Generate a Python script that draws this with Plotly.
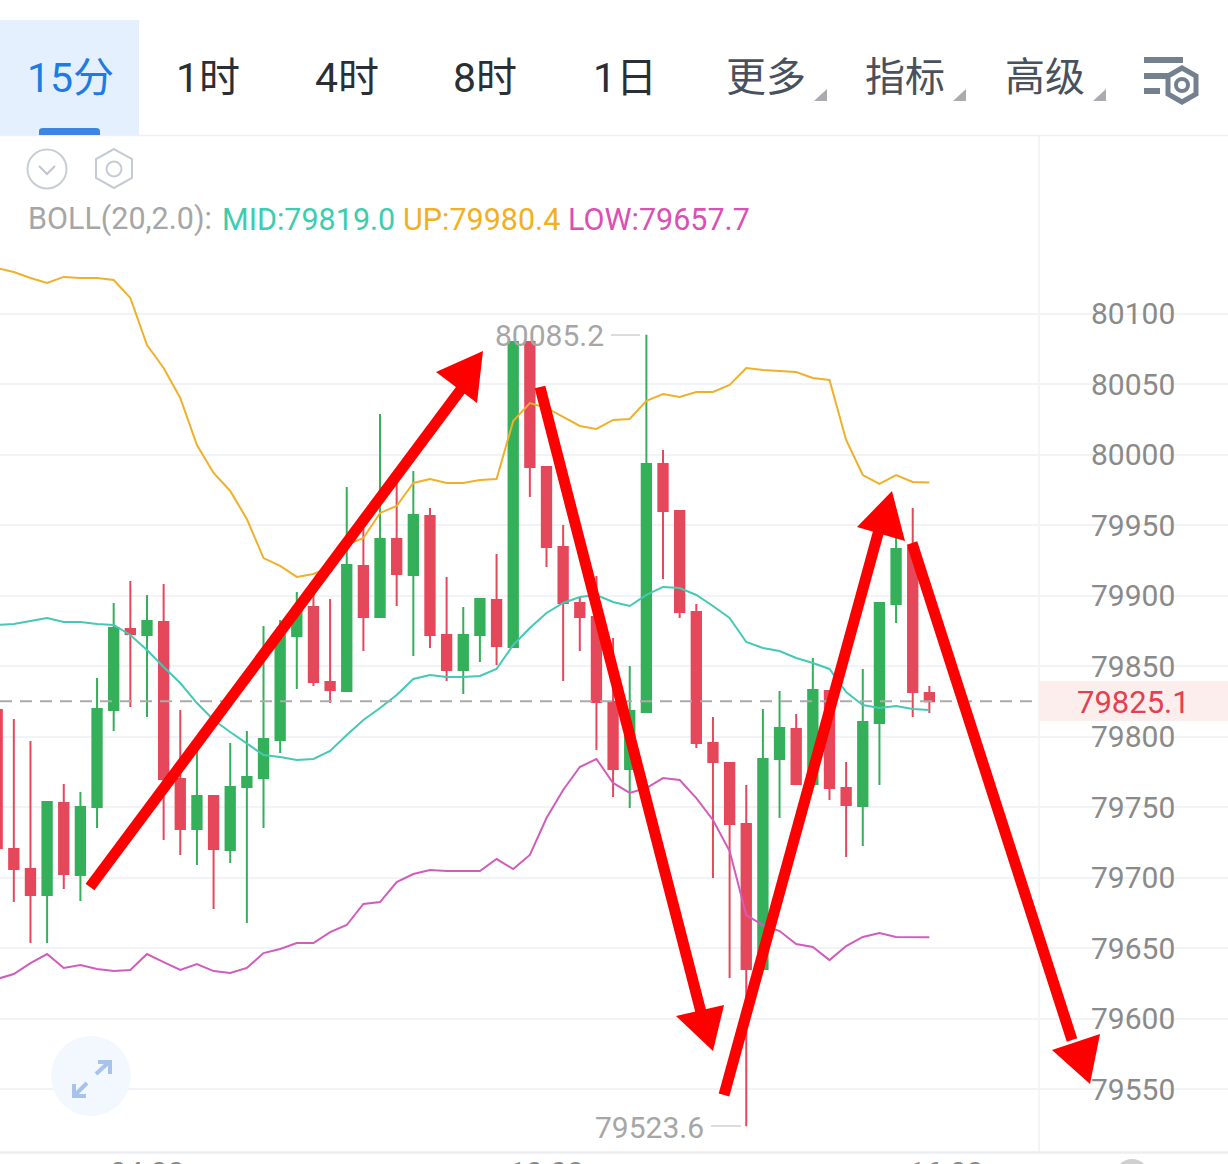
import plotly.graph_objects as go

W, H = 1228, 1164

opens = [79819.0,79720.3,79706.1,79687.7,79753.0,79701.9,79750.1,79819.0,79876.4,79872.2,
         79881.4,79770.0,79734.5,79757.9,79719.6,79764.3,79770.7,79797.7,79871.5,79892.1,
         79838.8,79832.5,79921.2,79885.0,79940.3,79914.8,79956.6,79872.2,79847.4,79872.2,
         79897.0,79863.7,80080.1,79991.4,79934.6,79894.9,79885.0,79824.6,79777.1,79817.5,
         79993.5,79960.2,79888.5,79795.5,79781.4,79738.1,79635.2,79784.2,79805.5,79766.5,
         79832.5,79763.6,79750.8,79809.7,79894.2,79933.9,79831.0]
highs = [79822.5,79812.6,79797.0,79753.7,79766.5,79760.8,79841.7,79894.9,79910.5,79900.6,
         79908.4,79819.0,79790.6,79757.9,79795.5,79804.1,79878.6,79882.8,79902.7,79905.5,
         79897.7,79977.2,79951.7,80029.0,79985.7,79988.6,79962.3,79913.4,79892.1,79897.7,
         79929.7,80080.1,80080.1,79991.4,79950.3,79899.2,79914.1,79870.1,79850.2,80085.2,
         80003.5,79960.2,79894.2,79814.0,79781.4,79765.7,79819.7,79832.5,79816.1,79855.9,
         79832.5,79782.1,79848.1,79894.9,79946.7,79962.3,79836.0]
lows = [79716.1,79682.7,79653.6,79653.6,79691.9,79683.4,79735.2,79804.1,79821.1,79814.0,
        79726.7,79716.1,79709.0,79677.7,79710.4,79667.8,79735.2,79788.5,79833.9,79836.0,
        79823.9,79832.5,79860.8,79885.0,79892.8,79857.3,79863.0,79839.5,79830.3,79853.0,
        79850.9,79863.7,79970.1,79920.5,79839.5,79860.8,79790.6,79757.2,79749.4,79817.5,
        79911.9,79884.3,79792.0,79699.7,79628.8,79523.6,79635.2,79742.3,79766.5,79766.5,
        79755.1,79714.6,79722.4,79765.7,79880.7,79814.0,79816.8]
closes = [79721.0,79706.1,79687.7,79753.7,79702.6,79750.1,79819.7,79877.2,79872.9,79882.1,
          79770.0,79734.5,79757.9,79720.3,79764.3,79771.4,79798.4,79872.2,79888.5,79838.8,
          79833.2,79921.9,79885.0,79940.3,79915.5,79957.4,79872.2,79847.4,79872.2,79897.7,
          79864.4,80080.1,79991.4,79934.6,79894.9,79885.0,79824.6,79777.1,79818.3,79993.5,
          79960.2,79888.5,79795.5,79782.1,79738.1,79635.2,79784.2,79806.2,79766.5,79833.2,
          79763.6,79751.5,79810.5,79894.9,79933.2,79831.7,79825.1]
boll_mid = [79879.3,79880.0,79882.1,79884.3,79881.4,79881.4,79880.0,79879.3,79872.2,79861.5,
            79849.5,79838.1,79823.9,79811.9,79803.4,79795.5,79787.0,79785.6,79783.5,79784.2,
            79789.9,79801.2,79811.9,79820.4,79829.6,79841.0,79843.8,79842.4,79842.4,79843.1,
            79848.1,79865.1,79877.2,79887.8,79894.9,79899.2,79900.6,79895.6,79892.8,79900.6,
            79906.3,79905.5,79900.6,79892.8,79884.3,79867.2,79863.0,79860.8,79855.9,79852.3,
            79848.1,79831.7,79822.5,79820.4,79821.8,79819.7,79819.0]
boll_up = [80132.6,80129.8,80125.5,80122.0,80126.3,80125.5,80125.5,80124.1,80111.4,80078.0,
           80061.7,80040.4,80007.0,79987.2,79974.4,79954.5,79926.8,79921.2,79913.4,79915.5,
           79920.5,79936.1,79941.0,79958.8,79963.7,79980.1,79982.9,79980.1,79980.1,79982.2,
           79982.9,80024.1,80036.8,80033.3,80026.9,80020.5,80018.4,80024.8,80025.5,80038.3,
           80043.2,80041.1,80044.6,80044.6,80049.6,80061.7,80060.3,80059.5,80058.8,80054.6,
           80053.2,80010.6,79985.7,79979.4,79985.7,79980.8,79980.4]
boll_low = [79628.1,79631.6,79639.4,79645.8,79635.9,79638.0,79635.2,79633.7,79634.5,79645.8,
            79640.1,79634.5,79638.7,79633.7,79632.3,79635.9,79646.5,79649.4,79653.6,79653.6,
            79661.4,79666.4,79681.3,79682.7,79696.9,79702.6,79705.4,79704.7,79704.7,79704.7,
            79713.2,79706.1,79716.1,79742.3,79762.2,79778.5,79784.2,79767.2,79760.1,79763.6,
            79770.7,79769.3,79756.5,79740.9,79718.9,79673.5,79666.4,79662.1,79652.9,79650.8,
            79641.5,79651.5,79657.9,79660.7,79657.9,79657.7,79657.7]
y_ticks = [80100,80050,80000,79950,79900,79850,79800,79750,79700,79650,79600,79550]
x_tick_pos = [9,33,57]
x_tick_text = ["04:00","10:00","16:00"]
last_price = 79825.1
candle_x = list(range(len(opens)))

GREEN, RED = "#35B05A", "#E5485A"
FONT = "Roboto, 'Noto Sans CJK SC', sans-serif"

def px(x): return x / W
def py(y): return 1 - y / H

shapes, annos = [], []

def rect(x0, y0, x1, y1, fill, layer="below", line=None):
    shapes.append(dict(type="rect", xref="paper", yref="paper", x0=px(x0), x1=px(x1), y0=py(y0), y1=py(y1),
                       fillcolor=fill, line=dict(width=0) if line is None else line, layer=layer))

def seg(x0, y0, x1, y1, color, width, layer="above", dash=None):
    shapes.append(dict(type="line", xref="paper", yref="paper", x0=px(x0), x1=px(x1), y0=py(y0), y1=py(y1),
                       line=dict(color=color, width=width, dash=dash) if dash else dict(color=color, width=width), layer=layer))

def poly(points, fill, layer="above", stroke=None, width=0, close=True):
    d = "M " + " L ".join(f"{px(x):.5f},{py(y):.5f}" for x, y in points) + (" Z" if close else "")
    shapes.append(dict(type="path", xref="paper", yref="paper", path=d, fillcolor=fill, layer=layer,
                       line=dict(color=stroke or "rgba(0,0,0,0)", width=width)))

def circle(cx, cy, r, fill, stroke=None, width=0, layer="above"):
    shapes.append(dict(type="circle", xref="paper", yref="paper", x0=px(cx - r), x1=px(cx + r), y0=py(cy - r), y1=py(cy + r),
                       fillcolor=fill, line=dict(color=stroke or "rgba(0,0,0,0)", width=width), layer=layer))

def text(x, y, s, size, color, anchor="left"):
    annos.append(dict(xref="paper", yref="paper", x=px(x), y=py(y), text=s, showarrow=False, xanchor=anchor, yanchor="middle",
                      font=dict(family=FONT, size=size, color=color), borderpad=0, borderwidth=0))

# frame
rect(1052, 136, 1214, 1152, "#ffffff", layer="between")
rect(1039, 681, 1228, 721, "#FDEEEE", layer="between")
seg(1039, 136, 1039, 1152, "#EEF0F3", 1.5, layer="between")
seg(0, 135.5, 1228, 135.5, "#EEF0F3", 1.5, layer="below")
seg(0, 1152.5, 1228, 1152.5, "#EBEDF0", 2.5, layer="below")

# toolbar
rect(0, 20, 139, 135, "#E4F0FD")
shapes.append(dict(type="path", xref="paper", yref="paper",
                   path=f"M {px(39):.5f},{py(135):.5f} L {px(39):.5f},{py(131):.5f} Q {px(39):.5f},{py(128):.5f} {px(43):.5f},{py(128):.5f} "
                        f"L {px(96):.5f},{py(128):.5f} Q {px(100):.5f},{py(128):.5f} {px(100):.5f},{py(131):.5f} L {px(100):.5f},{py(135):.5f} Z",
                   fillcolor="#3C85E6", line=dict(width=0), layer="above"))
text(70, 78, "15分", 41, "#1E7BE4", "center")
for cx, s in [(208, "1时"), (347, "4时"), (485, "8时"), (625, "1日")]:
    text(cx, 78, s, 41, "#2A2F36", "center")
for cx, s in [(766, "更多"), (905, "指标"), (1045, "高级")]:
    text(cx, 78, s, 40, "#48515C", "center")
for dx in (814, 953, 1093):
    poly([(dx, 101), (dx + 13, 101), (dx + 13, 89)], "#A9ABAE")
# settings icon
for y0, y1, x1 in [(57, 63, 1183), (73, 79, 1170), (88, 94, 1160)]:
    rect(1144, y0, x1, y1, "#74808E", layer="above")
hexagon = [(1182, 68), (1196, 76), (1196, 94), (1182, 102), (1168, 94), (1168, 76)]
poly(hexagon, "#ffffff", stroke="#74808E", width=5)
circle(1182, 85, 6, "#ffffff", "#74808E", 4)

# small icons
circle(47, 169, 19.5, "#ffffff", "#C9CED6", 2)
poly([(39, 166), (47, 174), (55, 166)], "rgba(0,0,0,0)", stroke="#C0C6CF", width=2, close=False)
poly([(114, 149), (132, 159), (132, 178), (114, 188), (96, 178), (96, 159)], "#ffffff", stroke="#C5CBD3", width=2)
circle(114, 169, 7.5, "#ffffff", "#C5CBD3", 2)

# indicator legend
text(28, 219, "BOLL(20,2.0):", 30.5, "#A6A6A6")
text(222, 219, "MID:79819.0", 30.5, "#3CCDB0")
text(403, 219, "UP:79980.4", 30.5, "#F2B01E")
text(568, 219, "LOW:79657.7", 30.5, "#DC4FB4")

# extreme price labels
text(495, 335, "80085.2", 30, "#A6A6A6")
seg(611, 335, 640, 335, "#D0D0D0", 1.5)
text(595, 1127, "79523.6", 30, "#A6A6A6")
seg(711, 1126, 741, 1126, "#D0D0D0", 1.5)

# last price
shapes.append(dict(type="line", xref="paper", yref="y", x0=0, x1=px(1037), y0=last_price, y1=last_price,
                   line=dict(color="#AAAAAA", width=2, dash="12px,8px"), layer="above"))
text(1133, 702, "79825.1", 31, "#E5404F", "center")

# expand button
circle(91, 1076, 40, "#F3F7FE")
for pts in ([(96, 1074), (109, 1062)], [(98, 1062), (110, 1062), (110, 1074)],
            [(87, 1083), (75, 1095)], [(74, 1084), (74, 1096), (86, 1096)]):
    poly(pts, "rgba(0,0,0,0)", stroke="#A7C3EC", width=4, close=False)

# bottom scroll knob
circle(1132, 1176, 17, "#D0D0D0")

# hand-drawn red arrows
for x0, y0, x1, y1 in [(90, 887, 462, 388), (540, 387, 703, 1020), (724, 1095, 879, 530), (912, 543, 1072, 1040)]:
    seg(x0, y0, x1, y1, "#FF0000", 11)
poly([(483, 351), (436, 372), (477, 403)], "#FF0000")
poly([(713, 1051), (676, 1016), (724, 1005)], "#FF0000")
poly([(892, 491), (857, 527), (905, 541)], "#FF0000")
poly([(1090, 1084), (1052, 1050), (1100, 1034)], "#FF0000")

fig = go.Figure()
fig.add_trace(go.Candlestick(x=candle_x, open=opens, high=highs, low=lows, close=closes, whiskerwidth=0,
                             increasing=dict(line=dict(color=GREEN, width=2), fillcolor=GREEN),
                             decreasing=dict(line=dict(color=RED, width=2), fillcolor=RED), showlegend=False))
for vals, color in [(boll_mid, "#45C9B4"), (boll_up, "#EFB02A"), (boll_low, "#D05DBB")]:
    fig.add_trace(go.Scatter(x=candle_x, y=vals, mode="lines", line=dict(color=color, width=2), showlegend=False))

fig.update_layout(
    width=W, height=H, margin=dict(l=0, r=0, t=0, b=0, pad=0, autoexpand=False), paper_bgcolor="#ffffff", plot_bgcolor="#ffffff",
    boxgap=0.44, boxgroupgap=0, boxmode="overlay", showlegend=False, shapes=shapes, annotations=annos,
    xaxis=dict(range=[0.17, 73.94], domain=[0, 1], showgrid=False, zeroline=False, showline=False, rangeslider=dict(visible=False),
               tickmode="array", tickvals=x_tick_pos, ticktext=x_tick_text, ticks="", anchor="free", position=1 - 1152 / H,
               tickfont=dict(family=FONT, size=30, color="#8A8A8A"), ticklabeloverflow="allow", automargin=False),
    yaxis=dict(range=[79496.8, 80322.8], domain=[0, 1], side="right", anchor="free", position=1090 / W,
               tickmode="array", tickvals=y_ticks, ticktext=[str(v) for v in y_ticks], ticks="", ticklen=0,
               showgrid=True, gridcolor="#F1F3F6", gridwidth=1.5, zeroline=False, showline=False, automargin=False,
               tickfont=dict(family=FONT, size=30, color="#8A8A8A")),
)
fig.write_html("out.html", config=dict(displayModeBar=False), post_script="document.body.style.margin='0';document.body.style.overflow='hidden';")
